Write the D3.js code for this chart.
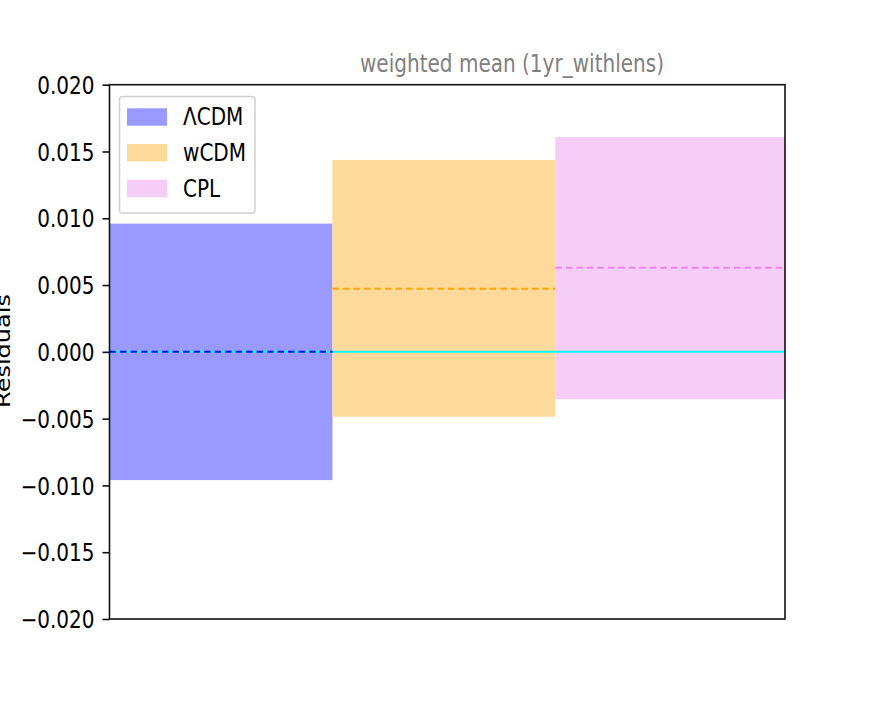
<!DOCTYPE html>
<html><head><meta charset="utf-8">
<script src="https://cdn.jsdelivr.net/npm/d3@7"></script>
<style>body{margin:0;background:#fff}svg{display:block}text{font-family:"DejaVu Sans",sans-serif}</style>
</head><body>
<svg id="c" width="872" height="708"></svg>
<script>
const models = ["ΛCDM", "wCDM", "CPL"];
const binEdges = [0, 1, 2, 3.03];
const lower = [-0.0096, -0.00486, -0.00355];
const upper = [0.0096, 0.01437, 0.01609];
const means = [0.0, 0.00472, 0.00629];
const fills = ["#9999ff", "#fdd99a", "#f6cdf6"];
const lineColors = ["blue", "orange", "violet"];
const yTicks = [-0.02, -0.015, -0.01, -0.005, 0, 0.005, 0.01, 0.015, 0.02];
const title = "weighted mean (1yr_withlens)";
const yLabel = "Residuals";

const svg = d3.select("#c");
const L = 109.5, R = 785, T = 84.7, B = 619;
const x = d3.scaleLinear().domain([0, 3.03]).range([L, R]);
const y = d3.scaleLinear().domain([-0.02, 0.02]).range([B, T]);
const SX = 0.835, FS = 24;

const g = svg.append("g");
g.selectAll("rect.bar").data(models).join("rect")
  .attr("x", (d, i) => x(binEdges[i])).attr("width", (d, i) => x(binEdges[i + 1]) - x(binEdges[i]))
  .attr("y", (d, i) => y(upper[i])).attr("height", (d, i) => y(lower[i]) - y(upper[i]))
  .attr("fill", (d, i) => fills[i]);
g.append("line").attr("x1", L).attr("x2", R).attr("y1", y(0)).attr("y2", y(0))
  .attr("stroke", "cyan").attr("stroke-width", 2);
g.selectAll("line.mean").data(models).join("line")
  .attr("x1", (d, i) => x(binEdges[i])).attr("x2", (d, i) => x(binEdges[i + 1]))
  .attr("y1", (d, i) => y(means[i])).attr("y2", (d, i) => y(means[i]))
  .attr("stroke", (d, i) => lineColors[i]).attr("stroke-width", 2)
  .attr("stroke-dasharray", "6.5,4");

svg.append("rect").attr("x", L).attr("y", T).attr("width", R - L).attr("height", B - T)
  .attr("fill", "none").attr("stroke", "#111").attr("stroke-width", 1.6);

const ax = svg.append("g").attr("transform", `translate(${L},0)`)
  .call(d3.axisLeft(y).tickValues(yTicks).tickSize(7).tickPadding(8)
    .tickFormat(d => d3.format(".3f")(d).replace("-", "\u2212")));
ax.select(".domain").remove();
ax.selectAll(".tick line").attr("stroke", "#111").attr("stroke-width", 1.6);
ax.selectAll(".tick text").attr("font-size", FS).attr("fill", "#000")
  .attr("font-family", "DejaVu Sans").attr("dy", "0.36em")
  .attr("transform", function () { const xx = +d3.select(this).attr("x"); return `translate(${xx},0) scale(${SX},1) translate(${-xx},0)`; });

svg.append("text").attr("text-anchor", "middle")
  .attr("transform", `translate(512,72) scale(${SX},1)`)
  .attr("font-size", FS).attr("fill", "#808080").text(title);

svg.append("text").attr("text-anchor", "middle")
  .attr("transform", `translate(10,351) rotate(-90) scale(1,${SX})`)
  .attr("font-size", FS).attr("fill", "#000").text(yLabel);

const lg = svg.append("g");
lg.append("rect").attr("x", 119.5).attr("y", 96.5).attr("width", 135.5).attr("height", 116.5)
  .attr("rx", 3).attr("fill", "white").attr("fill-opacity", 0.8).attr("stroke", "#d0d0d0").attr("stroke-width", 1.5);
models.forEach((m, i) => {
  const yy = 108.3 + i * 35.7;
  lg.append("rect").attr("x", 127).attr("y", yy).attr("width", 40).attr("height", 17.4).attr("fill", fills[i]);
  lg.append("text").attr("transform", `translate(183,${yy + 17}) scale(${SX},1)`)
    .attr("font-size", FS).attr("fill", "#000").text(m);
});
</script>
</body></html>
